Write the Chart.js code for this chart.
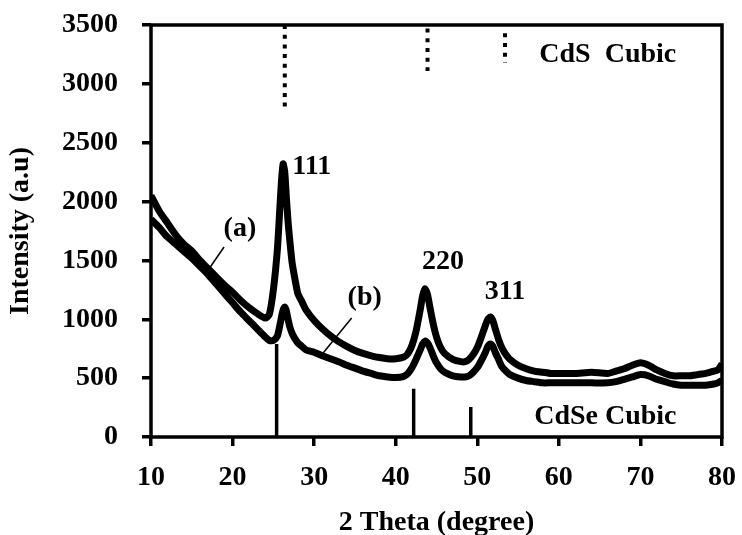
<!DOCTYPE html>
<html>
<head>
<meta charset="utf-8">
<script src="https://cdn.jsdelivr.net/npm/chart.js@4.4.1/dist/chart.umd.min.js"></script>
<style>
  html, body { margin: 0; padding: 0; background: #fff; }
  canvas { display: block; }
</style>
</head>
<body>
<canvas id="xrd-chart" width="742" height="535"></canvas>
<script>
// 2 theta values shared by both scans
var theta = [10, 11, 12, 13, 14, 15, 16, 17, 18, 19, 20, 21, 22, 23, 24, 24.5, 25, 25.5, 25.8, 26, 26.2, 26.4, 26.6, 26.8, 27, 27.3, 27.6, 28, 28.5, 29, 30, 31, 32, 33, 34, 35, 36, 37, 38, 39, 40, 41, 41.5, 42, 42.5, 43, 43.3, 43.6, 43.9, 44.2, 44.6, 45, 45.5, 46, 47, 48, 48.5, 49, 49.5, 50, 50.5, 51, 51.3, 51.6, 51.9, 52.2, 52.6, 53, 53.5, 54, 55, 56, 57, 58, 59, 60, 62, 64, 66, 67, 68, 69, 70, 71, 72, 73, 74, 75, 76, 77, 78, 79, 79.5, 80];

// sample (a) - strong peaks
var scanA = [2050, 1920, 1820, 1720, 1640, 1580, 1500, 1430, 1360, 1290, 1230, 1160, 1100, 1050, 1010, 1040, 1250, 1600, 1950, 2180, 2320, 2250, 2030, 1830, 1680, 1480, 1360, 1220, 1150, 1080, 990, 920, 860, 810, 770, 735, 710, 690, 675, 665, 665, 680, 710, 780, 900, 1080, 1200, 1260, 1210, 1100, 960, 850, 760, 710, 660, 640, 640, 660, 700, 760, 850, 950, 1000, 1020, 990, 920, 830, 760, 700, 660, 610, 580, 560, 550, 540, 540, 540, 550, 540, 560, 580, 610, 630, 610, 570, 540, 520, 520, 520, 530, 540, 560, 570, 620];

// sample (b) - weak peaks
var scanB = [1850, 1780, 1700, 1640, 1580, 1520, 1450, 1380, 1300, 1220, 1140, 1060, 990, 920, 850, 820, 820, 860, 950, 1020, 1080, 1105, 1070, 1000, 940, 880, 840, 800, 770, 740, 720, 690, 665, 640, 610, 585, 560, 540, 520, 510, 505, 515, 540, 590, 660, 740, 790, 815, 800, 760, 690, 630, 580, 550, 520, 510, 510, 520, 550, 590, 650, 720, 770, 790, 770, 720, 660, 600, 560, 530, 500, 480, 470, 460, 460, 460, 460, 460, 460, 470, 490, 510, 530, 520, 490, 470, 450, 440, 440, 440, 440, 450, 460, 480];

// reference patterns
var cdsPos = [26.4, 43.9, 53.4];
var cdsTop = [3500, 3470, 3430];
var cdsBottom = [2780, 3110, 3180];
var cdsePos = [25.4, 42.2, 49.2];
var cseHeight = [790, 410, 255];

var xTicks = [10, 20, 30, 40, 50, 60, 70, 80];
var yTicks = [0, 500, 1000, 1500, 2000, 2500, 3000, 3500];

// text labels (in data units)
var noteText = ["111", "220", "311", "(a)", "(b)", "CdS  Cubic", "CdSe Cubic"];
var noteX = [29.7, 45.8, 53.4, 20.9, 36.2, 66.0, 65.7];
var noteY = [2294, 1487, 1232, 1767, 1181, 3245, 170];
// leader lines for (a) and (b)
var leadX1 = [18.95, 34.6];
var leadY1 = [1614, 1011];
var leadX2 = [16.6, 31.1];
var leadY2 = [1376, 714];

var FONT = "'Liberation Serif', 'Times New Roman', serif";

function pts(xs, ys) {
  return xs.map(function (x, i) { return { x: x, y: ys[i] }; });
}

var datasets = [];
datasets.push({ data: pts(theta, scanA), borderColor: "#000", borderWidth: 7, pointRadius: 0, tension: 0.2 });
datasets.push({ data: pts(theta, scanB), borderColor: "#000", borderWidth: 7, pointRadius: 0, tension: 0.2 });
cdsPos.forEach(function (p, i) {
  datasets.push({
    data: [{ x: p, y: cdsTop[i] }, { x: p, y: cdsBottom[i] }],
    borderColor: "#000", borderWidth: 4, borderDash: [4, 5.7], borderCapStyle: "butt", pointRadius: 0
  });
});
cdsePos.forEach(function (p, i) {
  datasets.push({
    data: [{ x: p, y: 0 }, { x: p, y: cseHeight[i] }],
    borderColor: "#000", borderWidth: 3.5, pointRadius: 0
  });
});

var notes = {
  id: "notes",
  afterDatasetsDraw: function (chart) {
    var c = chart.ctx, xs = chart.scales.x, ys = chart.scales.y, a = chart.chartArea;
    c.save();
    // frame
    c.strokeStyle = "#000";
    c.lineWidth = 3.5;
    c.strokeRect(a.left, a.top, a.right - a.left, a.bottom - a.top);
    // leaders
    c.lineWidth = 1.5;
    for (var i = 0; i < leadX1.length; i++) {
      c.beginPath();
      c.moveTo(xs.getPixelForValue(leadX1[i]), ys.getPixelForValue(leadY1[i]));
      c.lineTo(xs.getPixelForValue(leadX2[i]), ys.getPixelForValue(leadY2[i]));
      c.stroke();
    }
    c.fillStyle = "#000";
    c.font = "bold 28px " + FONT;
    c.textAlign = "center";
    c.textBaseline = "middle";
    noteText.forEach(function (t, i) {
      c.fillText(t, xs.getPixelForValue(noteX[i]), ys.getPixelForValue(noteY[i]));
    });
    c.restore();
  }
};

var tickFont = { family: FONT, size: 28, weight: "bold" };

var ctx = document.getElementById("xrd-chart").getContext("2d");
var chart = new Chart(ctx, {
  type: "line",
  data: { datasets: datasets },
  options: {
    responsive: false,
    devicePixelRatio: 1,
    animation: false,
    layout: { padding: { left: 0, top: 25, right: 20, bottom: 0 } },
    plugins: { legend: { display: false }, tooltip: { enabled: false } },
    scales: {
      x: {
        type: "linear",
        min: 10, max: 80,
        afterBuildTicks: function (s) { s.ticks = xTicks.map(function (v) { return { value: v }; }); },
        afterFit: function (s) { s.height = 98; s.paddingLeft = 0; s.paddingRight = 0; },
        border: { display: false },
        grid: { drawOnChartArea: false, drawTicks: true, tickLength: 9, tickColor: "#000", lineWidth: 3.5 },
        ticks: { color: "#000", padding: 15, maxRotation: 0, font: tickFont, callback: function (v) { return String(v); } },
        title: { display: true, text: "2 Theta (degree)", color: "#000", padding: { top: 0, bottom: -5 }, font: tickFont }
      },
      y: {
        type: "linear",
        min: 0, max: 3500,
        afterBuildTicks: function (s) { s.ticks = yTicks.map(function (v) { return { value: v }; }); },
        afterFit: function (s) { s.width = 151; s.paddingTop = 0; s.paddingBottom = 0; },
        border: { display: false },
        grid: { drawOnChartArea: false, drawTicks: true, tickLength: 9, tickColor: "#000", lineWidth: 3.5 },
        ticks: { color: "#000", padding: 24, font: tickFont, callback: function (v) { return String(v); } },
        title: { display: true, text: "Intensity (a.u)", color: "#000", padding: { top: 4, bottom: 0 }, font: tickFont }
      }
    }
  },
  plugins: [notes]
});
</script>
</body>
</html>
